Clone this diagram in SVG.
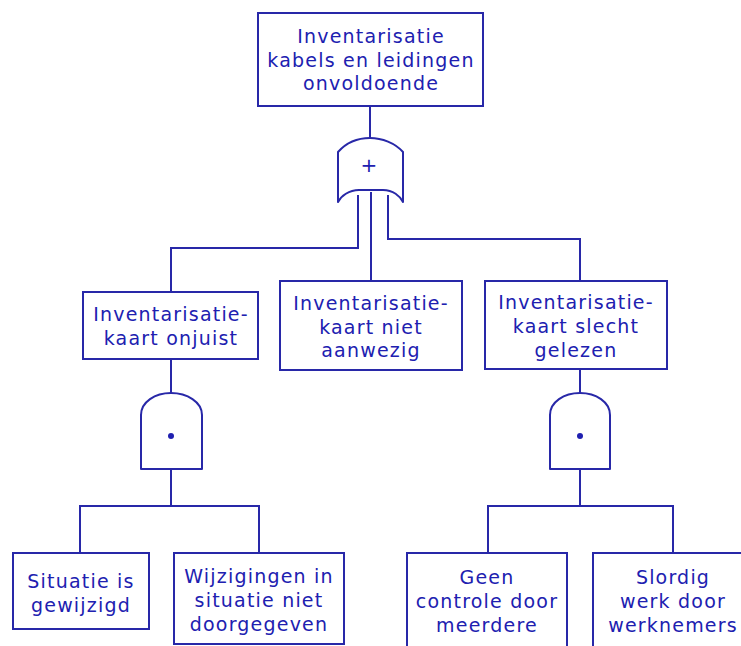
<svg xmlns="http://www.w3.org/2000/svg" width="741" height="646" viewBox="0 0 741 646">
  <style>
    .box { fill: #ffffff; stroke: #2828a8; stroke-width: 2; }
    .gate { fill: #ffffff; stroke: #2828a8; stroke-width: 2; stroke-linejoin: round; }
    .wire { fill: none; stroke: #2828a8; stroke-width: 2; }
    text { font-family: "DejaVu Sans", Verdana, sans-serif; font-size: 19px; letter-spacing: 1.2px; fill: #2020b0; text-anchor: middle; }
    .sym { font-size: 20px; letter-spacing: 0; }
  </style>
  <rect width="741" height="646" fill="#ffffff"/>

  <!-- connectors -->
  <g id="connectors">
    <path class="wire" d="M370,106 V139"/>
    <path class="wire" d="M358,195 V248 H171 V292"/>
    <path class="wire" d="M371,192 V281"/>
    <path class="wire" d="M388,195 V239 H580 V281"/>
    <path class="wire" d="M171,359 V394"/>
    <path class="wire" d="M171,469 V506 M80,553 V506 H259 V553"/>
    <path class="wire" d="M580,369 V394"/>
    <path class="wire" d="M580,469 V506 M488,553 V506 H673 V553"/>
  </g>

  <!-- top event -->
  <g id="top-event">
    <rect class="box" x="258" y="13" width="225" height="93"/>
    <text x="371" y="43">Inventarisatie</text>
    <text x="371" y="67">kabels en leidingen</text>
    <text x="371" y="90">onvoldoende</text>
  </g>

  <!-- OR gate -->
  <g id="or-gate">
    <path class="gate" d="M338,202 V152 C346,143 358,138 370,138 C382,138 395,143 403,152 V202 C400,196 393,190 383,190 L359,190 C349,190 341,196 338,202 Z"/>
    <text class="sym" x="369" y="172">+</text>
  </g>

  <g id="kaart-onjuist">
    <rect class="box" x="83" y="292" width="175" height="67"/>
    <text x="171" y="321">Inventarisatie-</text>
    <text x="171" y="345">kaart onjuist</text>
  </g>

  <g id="kaart-niet-aanwezig">
    <rect class="box" x="280" y="281" width="182" height="89"/>
    <text x="371" y="310">Inventarisatie-</text>
    <text x="371" y="334">kaart niet</text>
    <text x="371" y="357">aanwezig</text>
  </g>

  <g id="kaart-slecht-gelezen">
    <rect class="box" x="485" y="281" width="182" height="88"/>
    <text x="576" y="309">Inventarisatie-</text>
    <text x="576" y="333">kaart slecht</text>
    <text x="576" y="357">gelezen</text>
  </g>

  <!-- AND gates -->
  <g id="and-gate-left">
    <path class="gate" d="M141,469 V415 C141,402 155,393 171,393 C187,393 202,402 202,415 V469 Z"/>
    <circle cx="171" cy="436" r="3" fill="#2020b0"/>
  </g>

  <g id="and-gate-right">
    <path class="gate" d="M550,469 V415 C550,402 564,393 580,393 C596,393 610,402 610,415 V469 Z"/>
    <circle cx="580" cy="436" r="3" fill="#2020b0"/>
  </g>

  <!-- basic events -->
  <g id="situatie-gewijzigd">
    <rect class="box" x="13" y="553" width="136" height="76"/>
    <text x="81" y="588">Situatie is</text>
    <text x="81" y="612">gewijzigd</text>
  </g>

  <g id="wijzigingen-niet-doorgegeven">
    <rect class="box" x="174" y="553" width="170" height="91"/>
    <text x="259" y="583">Wijzigingen in</text>
    <text x="259" y="607">situatie niet</text>
    <text x="259" y="631">doorgegeven</text>
  </g>

  <g id="geen-controle">
    <rect class="box" x="407" y="553" width="160" height="104"/>
    <text x="487" y="584">Geen</text>
    <text x="487" y="608">controle door</text>
    <text x="487" y="632">meerdere</text>
  </g>

  <g id="slordig-werk">
    <rect class="box" x="593" y="553" width="160" height="104"/>
    <text x="673" y="584">Slordig</text>
    <text x="673" y="608">werk door</text>
    <text x="673" y="632">werknemers</text>
  </g>
</svg>
